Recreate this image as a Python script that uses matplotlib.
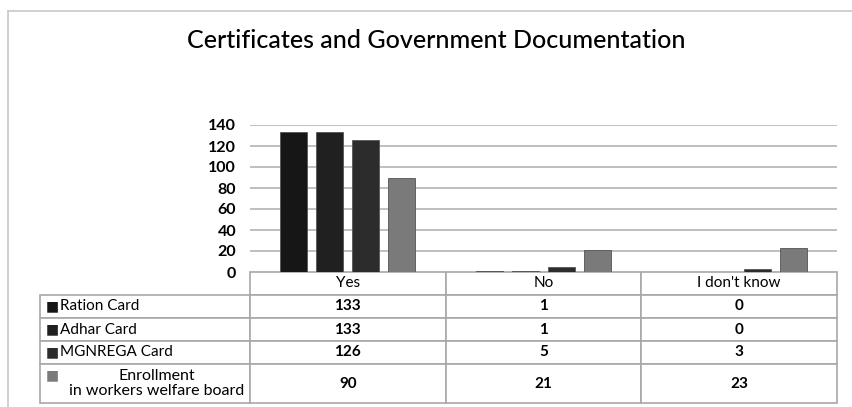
import matplotlib.pyplot as plt
from matplotlib.table import Table
from matplotlib.lines import Line2D
import numpy as np

plt.rcParams['font.family'] = ['Lato', 'DejaVu Sans']

# data
answers = ['Yes', 'No', "I don't know"]
series = ['Ration Card', 'Adhar Card', 'MGNREGA Card',
          'Enrollment\nin workers welfare board']
ration = [133, 1, 0]
adhar = [133, 1, 0]
mgnrega = [126, 5, 3]
enrollment = [90, 21, 23]
colors = ['#161616', '#202020', '#2c2c2c', '#7a7a7a']

W, H = 853, 407
fig = plt.figure(figsize=(W / 100, H / 100), dpi=100)

# outer frame (only top and left edges visible in the crop)
fig.add_artist(Line2D([8 / W, 8 / W], [0, 1 - 11 / H], color='#c8c8c8', lw=1.2))
fig.add_artist(Line2D([8 / W, 1], [1 - 11 / H, 1 - 11 / H], color='#c8c8c8', lw=1.2))

ax_l, ax_r, ax_t, ax_b = 250, 837, 125, 272
ax = fig.add_axes([ax_l / W, 1 - ax_b / H, (ax_r - ax_l) / W, (ax_b - ax_t) / H])

fig.text(0.512, 1 - 40 / H, 'Certificates and Government Documentation',
         ha='center', va='center', fontsize=18, fontweight='medium')

values = [ration, adhar, mgnrega, enrollment]
x = np.arange(len(answers))
step = 0.184
bw = 0.138
for i, (vals, c) in enumerate(zip(values, colors)):
    ax.bar(x + (i - 1.5) * step, vals, width=bw, color=c, edgecolor='#555555',
           linewidth=0.6, zorder=3)

ax.set_xlim(-0.5, 2.5)
ax.set_ylim(0, 140)
ax.set_yticks(range(0, 141, 20))
ax.set_yticklabels([str(v) for v in range(0, 141, 20)], fontsize=11.5, fontweight='bold')
ax.tick_params(axis='y', length=0, pad=10)
ax.set_xticks([])
ax.grid(axis='y', color='#b4b4b4', lw=1.2, zorder=0)
for s in ax.spines.values():
    s.set_visible(False)

# data table below the plot
tbl_l, tbl_b = 40, 403
col_w = [ax_l - tbl_l] + [(ax_r - ax_l) / 3] * 3
row_h = [23, 23, 23, 23, tbl_b - ax_b - 92]
tw, th = sum(col_w), sum(row_h)
tbl = Table(ax, bbox=[(tbl_l - ax_l) / (ax_r - ax_l), -th / (ax_b - ax_t),
                      tw / (ax_r - ax_l), th / (ax_b - ax_t)])
rows = [[''] + answers]
for name, vals in zip(series, values):
    rows.append([''] + [str(v) for v in vals])
for r, row in enumerate(rows):
    for c, txt in enumerate(row):
        cell = tbl.add_cell(r, c, width=col_w[c] / tw, height=row_h[r] / th,
                            text=txt, loc='center', edgecolor='#a8a8a8')
        cell.set_linewidth(1.2)
        cell.get_text().set_fontsize(11)
        if r > 0 and c > 0:
            cell.get_text().set_fontweight('bold')
        if r == 0 and c == 0:
            cell.visible_edges = ''
tbl.auto_set_font_size(False)
ax.add_table(tbl)

# row labels with legend keys
y = ax_b + row_h[0]
for i, (name, c) in enumerate(zip(series, colors)):
    h = row_h[i + 1]
    if i < 3:
        yc = y + h / 2
        fig.text(46 / W, 1 - yc / H, '■', color=c, fontsize=10, ha='left', va='center',
                 family=['DejaVu Sans'])
        fig.text(60 / W, 1 - yc / H, name, fontsize=11, ha='left', va='center')
    else:
        fig.text(46 / W, 1 - (y + 11) / H, '■', color=c, fontsize=10, ha='left', va='center',
                 family=['DejaVu Sans'])
        fig.text(157 / W, 1 - (y + h / 2) / H, name, fontsize=11.5, ha='center', va='center',
                 linespacing=1.05)
    y += h

fig.savefig('out.png', dpi=100)
